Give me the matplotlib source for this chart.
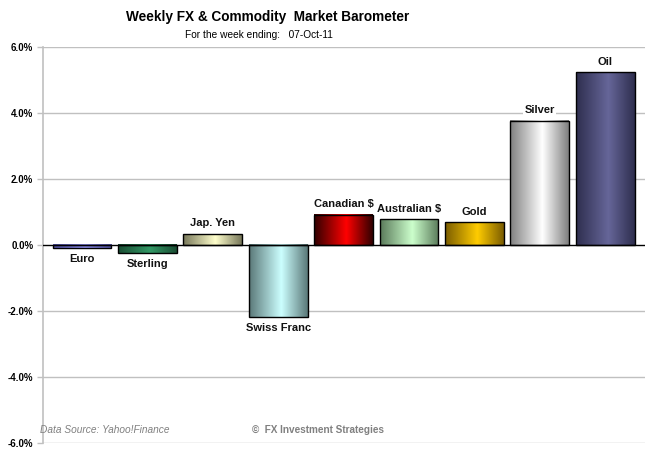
import numpy as np
import matplotlib
matplotlib.use("Agg")
import matplotlib.pyplot as plt
from matplotlib.colors import LinearSegmentedColormap
from matplotlib.ticker import FuncFormatter

# ─── DATA ────────────────────────────────────────────────────────────────────
labels  = ["Euro", "Sterling", "Jap. Yen", "Swiss Franc", "Canadian $",
           "Australian $", "Gold", "Silver", "Oil"]
changes = [-0.10, -0.25, 0.33, -2.19, 0.92, 0.78, 0.69, 3.76, 5.23]
yticks  = [-6, -4, -2, 0, 2, 4, 6]

# ─── STYLE ───────────────────────────────────────────────────────────────────
# (edge colour, centre colour) for the horizontal gradient fill
SHADES = [
    ("#5555aa", "#9999ff"),
    ("#1a4d33", "#339966"),
    ("#77775a", "#ffffcc"),
    ("#5a7878", "#ccffff"),
    ("#300000", "#ff0000"),
    ("#5a7a5a", "#ccffcc"),
    ("#7a5c00", "#ffcc00"),
    ("#7f7f7f", "#ffffff"),
    ("#2e2e4e", "#666699"),
]
GRID = "#c0c0c0"

plt.rcParams["font.family"] = ["Liberation Sans", "DejaVu Sans"]

fig = plt.figure(figsize=(6.47, 4.58), dpi=100, facecolor="white")
ax = fig.add_axes([43 / 647, 1 - 443 / 458, 602 / 647, 396 / 458])

x = np.arange(len(labels))
bars = ax.bar(x, changes, width=0.9, facecolor="none", edgecolor="black",
              linewidth=1.0, zorder=3)

grad = np.linspace(0, 1, 256).reshape(1, -1)
for bar, (edge, centre) in zip(bars, SHADES):
    cmap = LinearSegmentedColormap.from_list(
        "g", [(0, edge), (0.55, centre), (1, edge)])
    x0, y0 = bar.get_x(), bar.get_y()
    w, h = bar.get_width(), bar.get_height()
    ax.imshow(grad, cmap=cmap, aspect="auto",
              extent=[x0, x0 + w, y0, y0 + h], zorder=2)

for xi, v, lab in zip(x, changes, labels):
    off = 0.17 if v >= 0 else -0.17
    ax.text(xi, v + off, lab, ha="center", va="bottom" if v >= 0 else "top",
            fontsize=8, fontweight="bold", color="#111111", zorder=4,
            bbox=dict(facecolor="white", edgecolor="none", pad=1))

ax.set_xlim(-0.596, 8.61)
ax.set_ylim(-6, 6)
ax.set_yticks(yticks)
ax.yaxis.set_major_formatter(FuncFormatter(lambda v, _: f"{v:.1f}%"))
ax.tick_params(axis="y", labelsize=7, length=4, color=GRID, width=1, pad=3)
for t in ax.get_yticklabels():
    t.set_fontweight("bold")
ax.set_xticks([])

for yv in yticks:
    if yv != 0:
        ax.axhline(yv, color=GRID, lw=1, zorder=1)
ax.axhline(0, color="black", lw=1, zorder=3.5)

for side in ["top", "right", "bottom"]:
    ax.spines[side].set_visible(False)
ax.spines["left"].set_color(GRID)
ax.spines["left"].set_linewidth(1.2)

fig.text(268 / 647, 1 - 17 / 458, "Weekly FX & Commodity  Market Barometer",
         ha="center", va="center", fontsize=9.8, fontweight="bold")
fig.text(259 / 647, 1 - 35 / 458, "For the week ending:   07-Oct-11",
         ha="center", va="center", fontsize=7.3)
fig.text(40 / 647, 1 - 430 / 458, "Data Source: Yahoo!Finance",
         ha="left", va="center", fontsize=7.3, style="italic", color="#808080")
fig.text(252 / 647, 1 - 430 / 458, "©  FX Investment Strategies",
         ha="left", va="center", fontsize=7.2, fontweight="bold", color="#808080")

fig.savefig("out.png", dpi=100, facecolor="white")
